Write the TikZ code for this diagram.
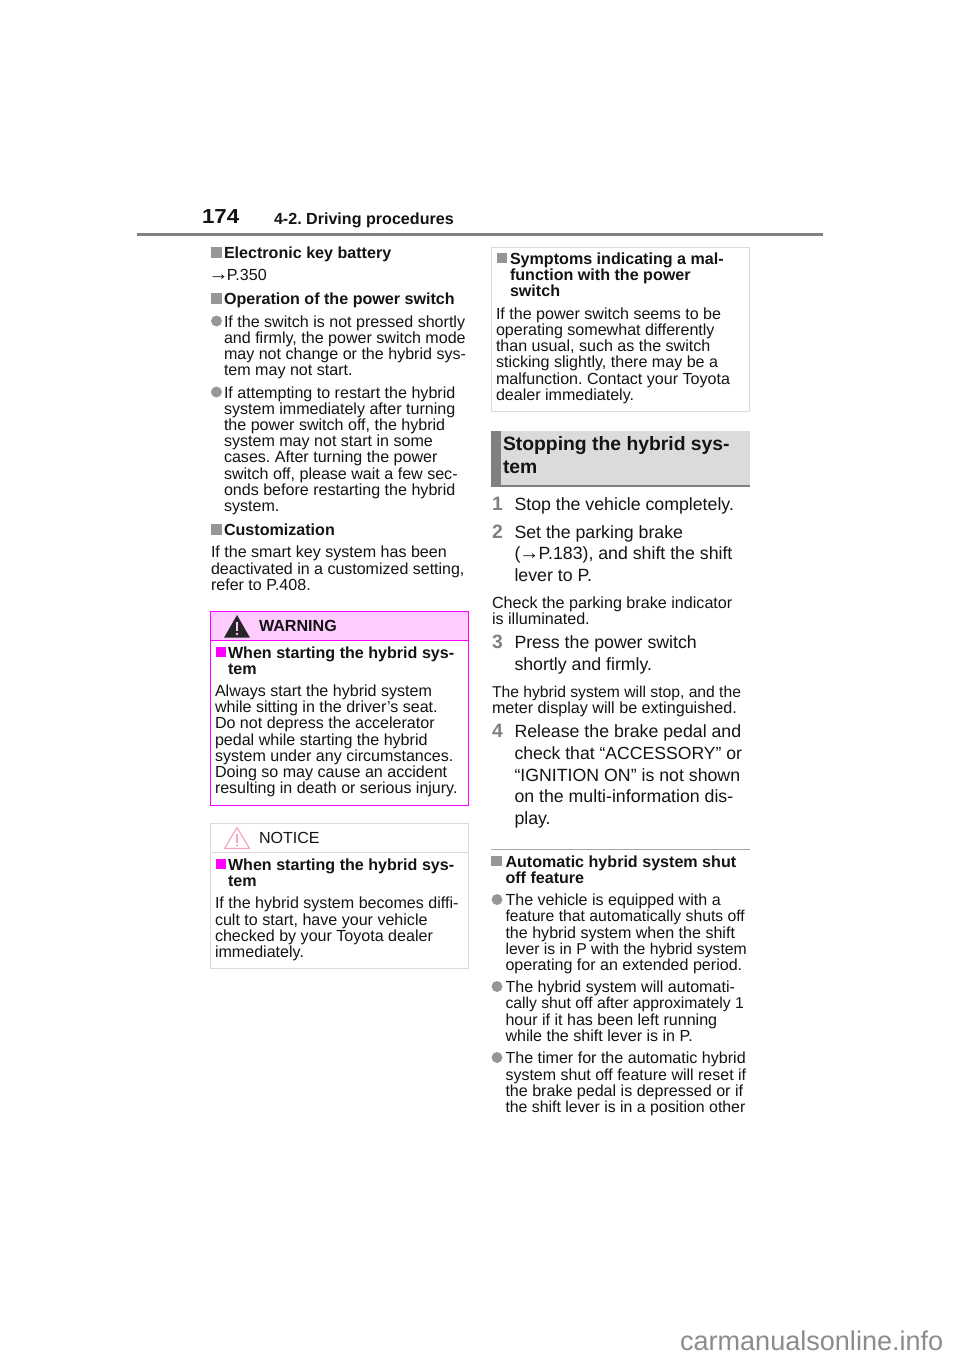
\documentclass[tikz,border=0pt]{standalone}
\usepackage{fontspec}
\setmainfont{Liberation Sans}
\frenchspacing
\newcounter{ln}
\newcommand\tl[4][body]{\stepcounter{ln}\node[#1] (ln\theln) at (#2,#3) {#4};}
\newcommand\sq[3][gsq]{\stepcounter{ln}\node[#1] (ln\theln) at (#2,#3) {};}
\newcommand\bl[2]{\stepcounter{ln}\node[gdot] (ln\theln) at (#1,#2) {};}
\newcommand\arr[1]{\makebox[#1][c]{\fontsize{15}{15}\selectfont →}}
\definecolor{mag}{RGB}{255,0,255}
\definecolor{warnbg}{RGB}{255,204,255}
\definecolor{gb}{RGB}{150,150,150}
\definecolor{noticetri}{RGB}{245,165,195}
\tikzset{
 x=0.75pt,y=-0.75pt,
 txt/.style={anchor=base west,inner sep=0,outer sep=0,text=black!92},
 body/.style={txt,yshift=-0.15pt,font=\fontsize{12.05}{12.05}\selectfont},
 tight/.style={txt,yshift=-0.15pt,font=\fontsize{11.8}{11.8}\selectfont},
 tighter/.style={txt,yshift=-0.15pt,font=\fontsize{11.9}{11.9}\selectfont},
 mid/.style={txt,yshift=-0.15pt,font=\fontsize{12}{12}\selectfont},
 bold/.style={txt,yshift=-0.15pt,font=\fontsize{12.07}{12.07}\selectfont\bfseries},
 small/.style={txt,font=\fontsize{12.1}{12.1}\selectfont},
 smallt/.style={txt,font=\fontsize{11.75}{11.75}\selectfont},
 step body/.style={txt,font=\fontsize{13.3}{13.3}\selectfont},
 stepnum/.style={txt,text=black!50,font=\fontsize{14.5}{14.5}\selectfont\bfseries},
 head/.style={txt,font=\fontsize{14.5}{14.5}\selectfont\bfseries},
 gsq/.style={fill=gb,draw=none,minimum width=8.2pt,minimum height=8.2pt,inner sep=0,anchor=center},
 msq/.style={fill=mag,draw=none,minimum width=7.6pt,minimum height=7.6pt,inner sep=0,anchor=center},
 gdot/.style={fill=gb,draw=none,circle,minimum size=8.2pt,inner sep=0,anchor=center},
}
\begin{document}
\begin{tikzpicture}
\useasboundingbox[fill=white] (0,0) rectangle (960,1358);
% header
\tl[txt,xscale=1.1,font=\fontsize{15.2}{15.2}\selectfont\bfseries]{202}{223.5}{174}
\tl[bold]{274}{224.5}{4-2. Driving procedures}
\fill[black!50] (137,233.3) rectangle (823,235.8);
% left column
\sq{216.2}{252.2}\tl[bold]{224}{258}{Electronic key battery}
\tl[body]{210.5}{280.5}{\arr{12.2pt}P.350}
\sq{216.2}{298.5}\tl[bold]{224}{304.5}{Operation of the power switch}
\bl{216.5}{321}
\tl{224}{327.5}{If the switch is not pressed shortly}
\tl{224}{343.5}{and firmly, the power switch mode}
\tl{224}{359.5}{may not change or the hybrid sys-}
\tl{224}{375.5}{tem may not start.}
\bl{216.5}{392}
\tl{224}{398}{If attempting to restart the hybrid}
\tl{224}{414}{system immediately after turning}
\tl{224}{430}{the power switch off, the hybrid}
\tl{224}{446.5}{system may not start in some}
\tl{224}{462.5}{cases. After turning the power}
\tl{224}{479}{switch off, please wait a few sec-}
\tl{224}{495}{onds before restarting the hybrid}
\tl{224}{511}{system.}
\sq{216.2}{529.5}\tl[bold]{224}{535}{Customization}
\tl{211}{557.5}{If the smart key system has been}
\tl[mid]{211}{574}{deactivated in a customized setting,}
\tl{211}{590}{refer to P.408.}
% warning
\fill[warnbg] (210,611) rectangle (468.5,640.5);
\draw[mag,line width=0.7pt] (210,611) rectangle (468.5,805);
\draw[mag,line width=0.7pt] (210,640.5) -- (468.5,640.5);
\fill[black!85] (237,615) -- (250,637.7) -- (224,637.7) -- cycle;
\fill[warnbg] (235.8,622) rectangle (238.2,631);
\fill[warnbg] (237,634) circle (1.4);
\tl[bold]{259}{631}{WARNING}
\sq[msq]{220.7}{652}\tl[bold]{228}{658}{When starting the hybrid sys-}
\tl[bold]{228}{674}{tem}
\tl{215}{696}{Always start the hybrid system}
\tl{215}{712.5}{while sitting in the driver’s seat.}
\tl{215}{728.5}{Do not depress the accelerator}
\tl{215}{745}{pedal while starting the hybrid}
\tl{215}{761}{system under any circumstances.}
\tl{215}{777.5}{Doing so may cause an accident}
\tl[mid]{215}{793.5}{resulting in death or serious injury.}
% notice
\draw[black!14,line width=0.7pt] (210,823) rectangle (468.5,968);
\draw[black!14,line width=0.7pt] (210,852) -- (468.5,852);
\draw[noticetri,line width=0.9pt,line join=round] (237,827.5) -- (249.5,848.5) -- (224.5,848.5) -- cycle;
\fill[noticetri] (236,833.5) rectangle (238,843);
\fill[noticetri] (237,845.5) circle (1.2);
\tl[body]{259}{843}{NOTICE}
\sq[msq]{220.7}{864}\tl[bold]{228}{870}{When starting the hybrid sys-}
\tl[bold]{228}{886}{tem}
\tl{215}{908.5}{If the hybrid system becomes diffi-}
\tl{215}{925}{cult to start, have your vehicle}
\tl{215}{941}{checked by your Toyota dealer}
\tl{215}{957}{immediately.}
% right column: symptoms box
\draw[black!14,line width=0.7pt] (491,247) rectangle (749.5,411);
\sq[msq,fill=gb]{501.7}{258}\tl[bold]{510}{264}{Symptoms indicating a mal-}
\tl[bold]{510}{280}{function with the power}
\tl[bold]{510}{296}{switch}
\tl{496}{319}{If the power switch seems to be}
\tl{496}{335}{operating somewhat differently}
\tl{496}{351.5}{than usual, such as the switch}
\tl{496}{367.5}{sticking slightly, there may be a}
\tl{496}{384}{malfunction. Contact your Toyota}
\tl{496}{400}{dealer immediately.}
% section header
\fill[black!14] (491,431) rectangle (749.5,486);
\fill[black!50] (491,431) rectangle (500.7,486);
\fill[black!50] (491,485) rectangle (749.5,486.7);
\tl[head]{503}{450.5}{Stopping the hybrid sys-}
\tl[head]{503}{473.5}{tem}
% steps
\tl[stepnum]{492}{510}{1}\tl[step body]{514.5}{510}{Stop the vehicle completely.}
\tl[stepnum]{492}{538}{2}\tl[step body]{514.5}{538}{Set the parking brake}
\tl[step body]{514.5}{559.8}{(\arr{13.6pt}P.183), and shift the shift}
\tl[step body]{514.5}{581.5}{lever to P.}
\tl[small]{492}{608}{Check the parking brake indicator}
\tl[small]{492}{624}{is illuminated.}
\tl[stepnum]{492}{648}{3}\tl[step body]{514.5}{648}{Press the power switch}
\tl[step body]{514.5}{670}{shortly and firmly.}
\tl[smallt]{492}{697}{The hybrid system will stop, and the}
\tl[small]{492}{713.5}{meter display will be extinguished.}
\tl[stepnum]{492}{737}{4}\tl[step body]{514.5}{737}{Release the brake pedal and}
\tl[txt,font=\fontsize{13.2}{13.2}\selectfont]{514.5}{759}{check that “ACCESSORY” or}
\tl[step body]{514.5}{781}{“IGNITION ON” is not shown}
\tl[step body]{514.5}{802.5}{on the multi-information dis-}
\tl[step body]{514.5}{824.5}{play.}
\draw[black!35,line width=0.6pt] (491,849) -- (749.5,849);
\sq{496.5}{861}\tl[bold]{505.5}{867}{Automatic hybrid system shut}
\tl[bold]{505.5}{883}{off feature}
\bl{497}{899.5}
\tl{505.5}{905.5}{The vehicle is equipped with a}
\tl[tight]{505.5}{921.5}{feature that automatically shuts off}
\tl{505.5}{938}{the hybrid system when the shift}
\tl[tight]{505.5}{954}{lever is in P with the hybrid system}
\tl{505.5}{970}{operating for an extended period.}
\bl{497}{986.5}
\tl{505.5}{992.5}{The hybrid system will automati-}
\tl[tight]{505.5}{1008.5}{cally shut off after approximately 1}
\tl{505.5}{1025}{hour if it has been left running}
\tl{505.5}{1041}{while the shift lever is in P.}
\bl{497}{1057.5}
\tl{505.5}{1063.5}{The timer for the automatic hybrid}
\tl[mid]{505.5}{1080}{system shut off feature will reset if}
\tl{505.5}{1096}{the brake pedal is depressed or if}
\tl[tighter]{505.5}{1112}{the shift lever is in a position other}
% watermark
\tl[txt,text=black!45,font=\fontsize{20.3}{20.3}\selectfont]{680}{1350}{carmanualsonline.info}
\end{tikzpicture}
\end{document}
